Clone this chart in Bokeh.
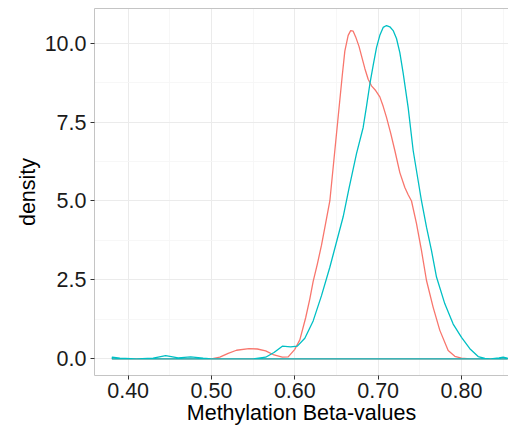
from bokeh.plotting import figure
from bokeh.models import FixedTicker, Range1d, LinearAxis
from bokeh.embed import file_html
from bokeh.resources import INLINE

# density curves (x = beta value, y = density)
red_x = [0.381, 0.500, 0.510, 0.520, 0.530, 0.545, 0.555, 0.565, 0.575, 0.585, 0.592,
         0.600, 0.606, 0.613, 0.618, 0.622, 0.627, 0.632, 0.637, 0.642, 0.645, 0.648,
         0.651, 0.654, 0.657, 0.660, 0.664, 0.667, 0.670, 0.673, 0.677, 0.680, 0.684,
         0.688, 0.692, 0.697, 0.702, 0.706, 0.710, 0.715, 0.720, 0.726, 0.732, 0.736,
         0.740, 0.746, 0.752, 0.758, 0.766, 0.774, 0.784, 0.792, 0.800, 0.810, 0.855]
red_y = [0.0, 0.0, 0.05, 0.17, 0.27, 0.32, 0.31, 0.25, 0.12, 0.05, 0.06,
         0.3, 0.6, 1.3, 1.9, 2.45, 3.0, 3.6, 4.3, 5.0, 5.8, 6.6,
         7.4, 8.2, 9.0, 9.75, 10.25, 10.4, 10.38, 10.2, 9.9, 9.6, 9.2,
         8.86, 8.65, 8.5, 8.3, 8.0, 7.65, 7.15, 6.6, 5.9, 5.43, 5.2,
         5.0, 4.28, 3.43, 2.48, 1.63, 0.9, 0.26, 0.08, 0.02, 0.0, 0.0]

teal_x = [0.381, 0.390, 0.410, 0.430, 0.445, 0.460, 0.475, 0.490, 0.500, 0.550, 0.565,
          0.575, 0.585, 0.595, 0.603, 0.612, 0.622, 0.632, 0.642, 0.650, 0.658, 0.665,
          0.674, 0.682, 0.686, 0.690, 0.694, 0.698, 0.702, 0.706, 0.710, 0.714, 0.718,
          0.722, 0.726, 0.730, 0.736, 0.742, 0.752, 0.758, 0.764, 0.770, 0.780, 0.790,
          0.800, 0.810, 0.820, 0.828, 0.835, 0.845, 0.850, 0.855]
teal_y = [0.05, 0.02, 0.0, 0.02, 0.1, 0.03, 0.06, 0.02, 0.0, 0.0, 0.05,
          0.2, 0.4, 0.38, 0.4, 0.65, 1.2, 2.0, 2.9, 3.7, 4.5, 5.4,
          6.5, 7.33, 8.0, 8.7, 9.3, 9.86, 10.25, 10.5, 10.56, 10.52, 10.4,
          10.15, 9.7, 9.05, 7.96, 6.6, 5.0, 4.17, 3.43, 2.59, 1.74, 1.1,
          0.68, 0.32, 0.07, 0.01, 0.0, 0.03, 0.05, 0.02]

x_ticks = [0.40, 0.50, 0.60, 0.70, 0.80]
x_minor = [0.45, 0.55, 0.65, 0.75, 0.85]
y_ticks = [0.0, 2.5, 5.0, 7.5, 10.0]
y_minor = [1.25, 3.75, 6.25, 8.75]

FONT = "Liberation Sans"

p = figure(width=508, height=427, output_backend="svg", toolbar_location=None,
           x_range=Range1d(0.3596, 0.8564), y_range=Range1d(-0.53, 11.1),
           min_border_left=94, min_border_right=0, min_border_top=8,
           min_border_bottom=52)
p.background_fill_color = "white"
p.border_fill_color = "white"
p.outline_line_color = None

# ggplot-like outline: each density drawn as an open polygon incl. baseline
for xs, ys, col in [(red_x, red_y, "#F8766D"), (teal_x, teal_y, "#00BFC4")]:
    px = list(xs) + [xs[-1], xs[0]]
    py = list(ys) + [0.0, 0.0]
    p.patch(px, py, fill_alpha=0, line_color=col, line_width=1.3,
            line_join="round")

for ax in (p.xaxis[0], p.yaxis[0]):
    ax.axis_line_color = "#c4c4c4"
    ax.axis_line_width = 1
    ax.major_tick_line_color = "#333333"
    ax.major_tick_in = 0
    ax.major_tick_out = 4
    ax.minor_tick_line_color = None
    ax.major_label_text_font = FONT
    ax.major_label_text_font_size = "21.5px"
    ax.major_label_text_color = "#1a1a1a"
    ax.axis_label_text_font = FONT
    ax.axis_label_text_font_size = "21.5px"
    ax.axis_label_text_font_style = "normal"
    ax.axis_label_text_color = "black"

p.xaxis.ticker = FixedTicker(ticks=x_ticks, minor_ticks=x_minor)
p.yaxis.ticker = FixedTicker(ticks=y_ticks, minor_ticks=y_minor)
p.xaxis.major_label_overrides = {t: f"{t:.2f}" for t in x_ticks}
p.yaxis.major_label_overrides = {t: f"{t:.1f}" for t in y_ticks}
p.xaxis.axis_label = "Methylation Beta-values"
p.yaxis.axis_label = "density"
p.xaxis.major_label_standoff = 3
p.yaxis.major_label_standoff = 4
p.xaxis.axis_label_standoff = 0
p.yaxis.axis_label_standoff = 2

top = LinearAxis(ticker=FixedTicker(ticks=[]), major_label_text_font_size="0px",
                 axis_line_color="#c4c4c4", major_tick_line_color=None,
                 minor_tick_line_color=None)
p.add_layout(top, "above")

p.grid.grid_line_color = "#ebebeb"
p.grid.grid_line_width = 1
p.grid.minor_grid_line_color = "#f5f5f5"
p.grid.minor_grid_line_width = 0.8

open("out.html", "w").write(file_html(p, INLINE))
